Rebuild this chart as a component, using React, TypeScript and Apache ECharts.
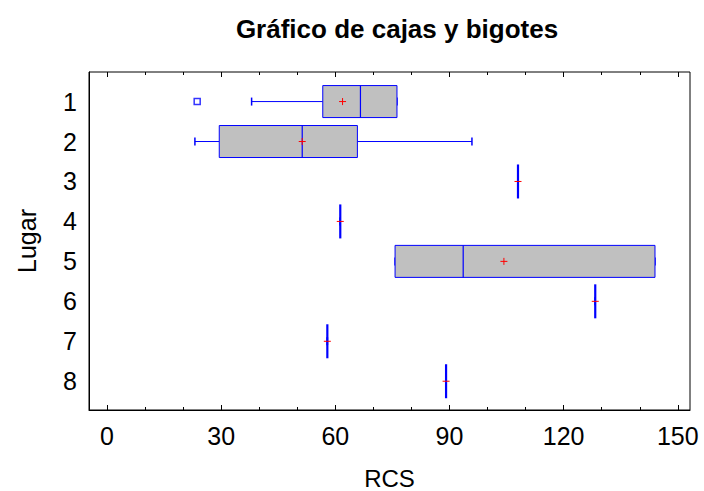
import React, { useEffect, useRef } from "react";
import * as echarts from "echarts";

const titleText = "Gráfico de cajas y bigotes";
const xName = "RCS";
const yName = "Lugar";
const categories = ["1", "2", "3", "4", "5", "6", "7", "8"];
const mins = [38.0, 23.1, 108.0, 61.3, 75.7, 128.3, 57.9, 89.1];
const q1s = [56.7, 29.5, 108.0, 61.3, 75.7, 128.3, 57.9, 89.1];
const medians = [66.6, 51.3, 108.0, 61.3, 93.6, 128.3, 57.9, 89.1];
const q3s = [76.2, 65.8, 108.0, 61.3, 144.0, 128.3, 57.9, 89.1];
const maxs = [76.2, 95.9, 108.0, 61.3, 144.0, 128.3, 57.9, 89.1];
const means = [61.9, 51.3, 108.0, 61.3, 104.3, 128.3, 57.9, 89.1];
const outlierCats = ["1"];
const outlierValues = [23.7];
const xMajorTicks = [0, 30, 60, 90, 120, 150];
const xMinorTicks = [10, 20, 40, 50, 70, 80, 100, 110, 130, 140];

const FONT = "'Liberation Sans', Arial, sans-serif";
const BLUE = "#0000ff";
const RED = "#ff0000";
const X_MIN = -4.73;
const X_MAX = 153.2;
const Y_MIN = 0.26;
const Y_MAX = 8.72;

export default function App() {
  const ref = useRef<HTMLDivElement>(null);
  useEffect(() => {
    if (!ref.current) return;
    const chart = echarts.init(ref.current, null, { renderer: "svg" });
    const boxData = categories.map((c, i) => [
      i + 1,
      mins[i],
      q1s[i],
      medians[i],
      q3s[i],
      maxs[i],
      means[i],
    ]);
    const outlierData = outlierCats.map((c, i) => [
      outlierValues[i],
      categories.indexOf(c) + 1,
    ]);

    const renderItem = (params: any, api: any) => {
      const y = api.value(0);
      const vmin = api.value(1);
      const vq1 = api.value(2);
      const vmed = api.value(3);
      const vq3 = api.value(4);
      const vmax = api.value(5);
      const vmean = api.value(6);
      const p = (v: number) => api.coord([v, y]);
      const h = 16;
      const cap = 4;
      const c = p(vmed);
      const cy = c[1];
      const lineStyle = { stroke: BLUE, lineWidth: 1, fill: null };
      const children: any[] = [];
      const pMin = p(vmin);
      const pQ1 = p(vq1);
      const pQ3 = p(vq3);
      const pMax = p(vmax);
      const pMean = p(vmean);
      if (vq1 > vmin) {
        children.push({
          type: "line",
          shape: { x1: pMin[0], y1: cy, x2: pQ1[0], y2: cy },
          style: lineStyle,
        });
      }
      if (vmax > vq3) {
        children.push({
          type: "line",
          shape: { x1: pQ3[0], y1: cy, x2: pMax[0], y2: cy },
          style: lineStyle,
        });
      }
      children.push({
        type: "line",
        shape: { x1: pMin[0], y1: cy - cap, x2: pMin[0], y2: cy + cap },
        style: { stroke: BLUE, lineWidth: 1.5 },
      });
      children.push({
        type: "line",
        shape: { x1: pMax[0], y1: cy - cap, x2: pMax[0], y2: cy + cap },
        style: { stroke: BLUE, lineWidth: 1.5 },
      });
      if (vq3 > vq1) {
        children.push({
          type: "rect",
          shape: { x: pQ1[0], y: cy - h, width: pQ3[0] - pQ1[0], height: 2 * h },
          style: { fill: "#c0c0c0", stroke: BLUE, lineWidth: 1 },
        });
        children.push({
          type: "line",
          shape: { x1: c[0], y1: cy - h, x2: c[0], y2: cy + h },
          style: { stroke: BLUE, lineWidth: 1.2 },
        });
      } else {
        children.push({
          type: "line",
          shape: { x1: c[0], y1: cy - h - 1, x2: c[0], y2: cy + h + 1 },
          style: { stroke: BLUE, lineWidth: 2.2 },
        });
      }
      const m = 3.5;
      children.push({
        type: "line",
        shape: { x1: pMean[0] - m, y1: cy, x2: pMean[0] + m, y2: cy },
        style: { stroke: RED, lineWidth: 1 },
      });
      if (vq3 > vq1) {
        children.push({
          type: "line",
          shape: { x1: pMean[0], y1: cy - m, x2: pMean[0], y2: cy + m },
          style: { stroke: RED, lineWidth: 1 },
        });
      }
      return { type: "group", children };
    };

    const baseX = {
      type: "value" as const,
      min: X_MIN,
      max: X_MAX,
      splitLine: { show: false },
      axisLine: { show: false, onZero: false },
    };

    chart.setOption({
      animation: false,
      backgroundColor: "#ffffff",
      title: {
        text: titleText,
        left: 392,
        top: 11,
        textAlign: "center",
        textStyle: {
          fontFamily: FONT,
          fontSize: 26,
          fontWeight: "bold",
          color: "#000",
        },
      },
      grid: {
        left: 89,
        top: 72,
        right: 14,
        bottom: 81,
        show: true,
        containLabel: false,
        outerBoundsMode: "none",
        borderColor: "#000",
        borderWidth: 1,
        backgroundColor: "transparent",
      },
      xAxis: [
        {
          ...baseX,
          position: "bottom",
          name: xName,
          nameLocation: "middle",
          nameGap: 56,
          nameTextStyle: { fontFamily: FONT, fontSize: 24, color: "#000" },
          axisLine: { show: true, onZero: false, lineStyle: { color: "#000", width: 1 } },
          axisTick: {
            show: true,
            inside: true,
            length: 5,
            customValues: xMajorTicks,
            lineStyle: { color: "#000", width: 1 },
          },
          axisLabel: {
            show: true,
            customValues: xMajorTicks,
            margin: 13,
            fontFamily: FONT,
            fontSize: 25,
            color: "#000",
          },
        },
        {
          ...baseX,
          position: "bottom",
          axisTick: {
            show: true,
            inside: true,
            length: 3,
            customValues: xMinorTicks,
            lineStyle: { color: "#000", width: 1 },
          },
          axisLabel: { show: false },
        },
        {
          ...baseX,
          position: "top",
          axisTick: {
            show: true,
            inside: true,
            length: 5,
            customValues: xMajorTicks,
            lineStyle: { color: "#000", width: 1 },
          },
          axisLabel: { show: false },
        },
        {
          ...baseX,
          position: "top",
          axisTick: {
            show: true,
            inside: true,
            length: 3,
            customValues: xMinorTicks,
            lineStyle: { color: "#000", width: 1 },
          },
          axisLabel: { show: false },
        },
      ],
      yAxis: {
        type: "value",
        inverse: true,
        min: Y_MIN,
        max: Y_MAX,
        name: yName,
        nameLocation: "middle",
        nameGap: 50,
        nameRotate: 90,
        nameTextStyle: { fontFamily: FONT, fontSize: 25, color: "#000" },
        splitLine: { show: false },
        axisLine: { show: true, onZero: false, lineStyle: { color: "#000", width: 1 } },
        axisTick: { show: false },
        axisLabel: {
          show: true,
          customValues: categories.map((c, i) => i + 1),
          formatter: (v: number) => categories[Math.round(v) - 1] ?? "",
          margin: 12,
          fontFamily: FONT,
          fontSize: 25,
          color: "#000",
        },
      },
      series: [
        {
          type: "custom",
          xAxisIndex: 0,
          yAxisIndex: 0,
          renderItem,
          encode: { x: [1, 2, 3, 4, 5, 6], y: 0 },
          data: boxData,
          z: 3,
        },
        {
          type: "scatter",
          xAxisIndex: 0,
          yAxisIndex: 0,
          symbol: "rect",
          symbolSize: 6,
          itemStyle: { color: "#ffffff", borderColor: BLUE, borderWidth: 1.5 },
          data: outlierData,
          z: 4,
        },
      ],
    });
    return () => chart.dispose();
  }, []);
  return (
    <div
      ref={ref}
      style={{ position: "fixed", left: 0, top: 0, width: 704, height: 491 }}
    />
  );
}
